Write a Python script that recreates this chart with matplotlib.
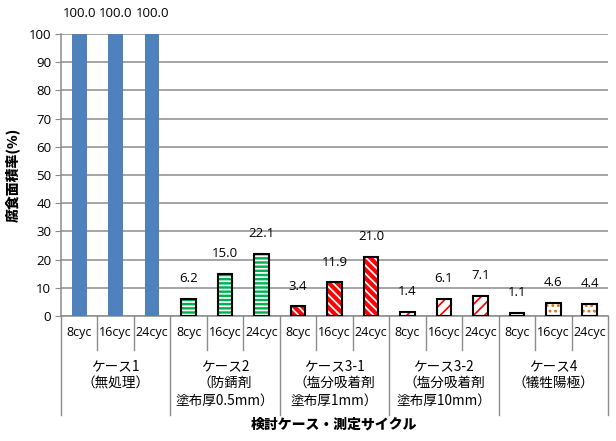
import matplotlib
matplotlib.use("Agg")
import matplotlib.pyplot as plt
import numpy as np

plt.rcParams['font.family'] = ['Noto Sans CJK JP', 'DejaVu Sans']
plt.rcParams['hatch.linewidth'] = 1.25

cycles = ["8cyc", "16cyc", "24cyc"]
groups = ["ケース1\n（無処理）", "ケース2\n（防錆剤\n塗布厚0.5mm）", "ケース3-1\n（塩分吸着剤\n塗布厚1mm）",
          "ケース3-2\n（塩分吸着剤\n塗布厚10mm）", "ケース4\n（犠牲陽極）"]
values = [
    [100.0, 100.0, 100.0],
    [6.2, 15.0, 22.1],
    [3.4, 11.9, 21.0],
    [1.4, 6.1, 7.1],
    [1.1, 4.6, 4.4],
]
yticks = list(range(0, 101, 10))
ylabel = "腐食面積率(%)"
xlabel = "検討ケース・測定サイクル"

# style per group: (facecolor, hatchcolor, hatch)
styles = [
    ("#4F81BD", None, None),
    ("#00B050", "white", "----"),
    ("#FF0000", "white", "\\\\\\\\"),
    ("white", "#FF0000", "///"),
    ("white", "#E36C09", "..."),
]

fig = plt.figure(figsize=(6.16, 4.41), dpi=100)
ax = fig.add_axes([61/616, 1-316/441, (608-61)/616, (316-34)/441])

num_font = ['Open Sans', 'DejaVu Sans']
width = 0.4
n = len(cycles)
for g, vals in enumerate(values):
    fc, hc, hatch = styles[g]
    xs = np.arange(n) + g * n
    if hatch is None:
        ax.bar(xs, vals, width=width, color=fc, zorder=3)
    else:
        ax.bar(xs, vals, width=width, facecolor=fc, edgecolor=hc, hatch=hatch, linewidth=0, zorder=3)
        ax.bar(xs, vals, width=width, fill=False, edgecolor="black", linewidth=1.5, zorder=4)
    for x, v in zip(xs, vals):
        ax.annotate(f"{v:.1f}", (x, v), xytext=(0, 14.5), textcoords="offset points",
                    ha="center", va="center", fontsize=9.5, family=num_font)

total = n * len(values)
ax.set_xlim(-0.5, total - 0.5)
ax.set_ylim(0, 100)
ax.set_yticks(yticks)
ax.set_yticklabels([str(t) for t in yticks], fontsize=9.5, family=num_font)
ax.set_xticks([])
ax.yaxis.grid(True, color="#8C8C8C", linewidth=1.1, zorder=0)
ax.set_axisbelow(True)
for s in ["top", "right"]:
    ax.spines[s].set_visible(False)
for s in ["left", "bottom"]:
    ax.spines[s].set_color("#8C8C8C")
    ax.spines[s].set_linewidth(1.1)
ax.tick_params(axis="y", length=4, color="#8C8C8C", pad=3)

trans = ax.get_xaxis_transform()
for i in range(total):
    ax.text(i, -0.058, cycles[i % n], transform=trans, ha="center", va="center",
            fontsize=9, family=num_font)
for b in range(total + 1):
    x = b - 0.5
    y1 = -0.35 if b % n == 0 else -0.12
    ax.plot([x, x], [0, y1], transform=trans, color="#8C8C8C", linewidth=1.0, clip_on=False)
for g, name in enumerate(groups):
    ax.text(g * n + 1, -0.152, name, transform=trans, ha="center", va="top",
            fontsize=9.8, linespacing=1.3)

fig.text((61+608)/2/616, 1-425/441, xlabel, ha="center", va="center", fontsize=10, fontweight="heavy")
fig.text(13/616, 1-175/441, ylabel, ha="center", va="center", rotation=90, fontsize=10, fontweight="heavy")

fig.savefig("out.png", dpi=100)
